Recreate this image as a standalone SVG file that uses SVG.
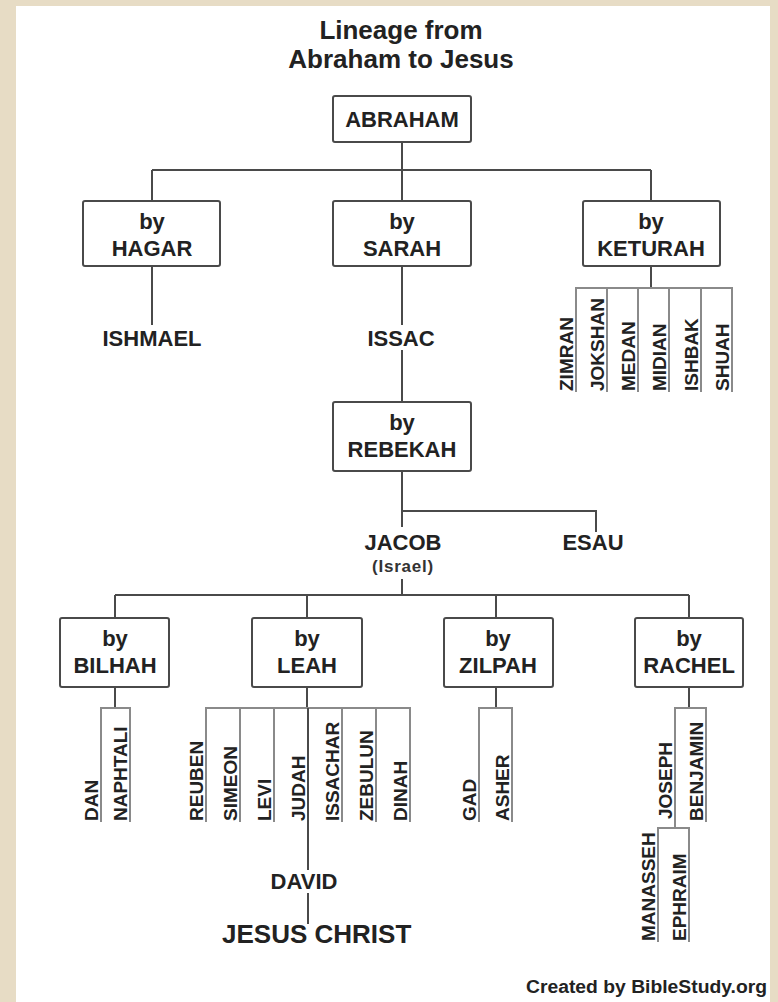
<svg xmlns="http://www.w3.org/2000/svg" width="778" height="1002" viewBox="0 0 778 1002">
<style>
.bg{fill:#e7dcc5}
.panel{fill:#ffffff}
.box{fill:#ffffff;stroke:#4a4a4a;stroke-width:2}
.ln{fill:none;stroke:#4a4a4a;stroke-width:2}
.br{fill:none;stroke:#8a8a8a;stroke-width:2}
text{font-family:"Liberation Sans",Arial,sans-serif;font-weight:bold;fill:#222}
.t{font-size:26px;text-anchor:middle}
.lb{font-size:22px;text-anchor:middle}
.son{font-size:19px}
.isr{font-size:17px;text-anchor:middle;fill:#333;letter-spacing:0.8px}
.jc{font-size:26px}
.cr{font-size:18px}
</style>
<rect class="bg" x="0" y="0" width="778" height="1002"/>
<rect class="panel" x="16" y="6" width="754" height="996"/>

<g id="title">
<text class="t" x="401" y="39">Lineage from</text>
<text class="t" x="401" y="68">Abraham to Jesus</text>
</g>

<g id="connectors">
<path class="ln" d="M402 142V201M152 170H651M152 170V201M651 170V201"/>
<path class="ln" d="M152 266V325M402 266V325M402 350V402M402 471V527M402 511H596V532M402 579V595M115 595H689M115 595V618M307 595V618M496 595V618M689 595V618"/>
<path class="ln" d="M651 266V288M115 687V708M307 687V708M496 687V708M689 687V708"/>
<path class="br" d="M576 392V288H732V392M607 288V392M638 288V392M669 288V392M701 288V392"/>
<path class="br" d="M101 822V708H130V822"/>
<path class="br" d="M206 822V708H410V822M240 708V822M274 708V822M342 708V822M376 708V822"/>
<path class="ln" d="M308 708V870M308 893V924"/>
<path class="br" d="M479 822V708H512V822"/>
<path class="br" d="M675 828V708H706V822M658 942V828H689V942"/>
</g>

<g id="abraham"><rect class="box" x="333" y="96" width="138" height="46" rx="2"/><text class="lb" x="402" y="127">ABRAHAM</text></g>
<g id="hagar"><rect class="box" x="83" y="201" width="137" height="65" rx="2"/><text class="lb" x="152" y="229">by</text><text class="lb" x="152" y="256">HAGAR</text></g>
<g id="sarah"><rect class="box" x="333" y="201" width="138" height="65" rx="2"/><text class="lb" x="402" y="229">by</text><text class="lb" x="402" y="256">SARAH</text></g>
<g id="keturah"><rect class="box" x="583" y="201" width="137" height="65" rx="2"/><text class="lb" x="651" y="229">by</text><text class="lb" x="651" y="256">KETURAH</text></g>

<g id="ishmael"><text class="lb" x="152" y="346">ISHMAEL</text></g>
<g id="issac"><text class="lb" x="401" y="346">ISSAC</text></g>

<g id="keturah-sons">
<text class="son" transform="translate(573,391) rotate(-90)">ZIMRAN</text>
<text class="son" transform="translate(604,391) rotate(-90)">JOKSHAN</text>
<text class="son" transform="translate(635,391) rotate(-90)">MEDAN</text>
<text class="son" transform="translate(666,391) rotate(-90)">MIDIAN</text>
<text class="son" transform="translate(698,391) rotate(-90)">ISHBAK</text>
<text class="son" transform="translate(729,391) rotate(-90)">SHUAH</text>
</g>

<g id="rebekah"><rect class="box" x="333" y="402" width="138" height="69" rx="2"/><text class="lb" x="402" y="430">by</text><text class="lb" x="402" y="457">REBEKAH</text></g>

<g id="jacob"><text class="lb" x="403" y="550">JACOB</text><text class="isr" x="403" y="572">(Israel)</text></g>
<g id="esau"><text class="lb" x="593" y="550">ESAU</text></g>

<g id="bilhah"><rect class="box" x="60" y="618" width="109" height="69" rx="2"/><text class="lb" x="115" y="646">by</text><text class="lb" x="115" y="673">BILHAH</text></g>
<g id="leah"><rect class="box" x="252" y="618" width="110" height="69" rx="2"/><text class="lb" x="307" y="646">by</text><text class="lb" x="307" y="673">LEAH</text></g>
<g id="zilpah"><rect class="box" x="444" y="618" width="109" height="69" rx="2"/><text class="lb" x="498" y="646">by</text><text class="lb" x="498" y="673">ZILPAH</text></g>
<g id="rachel"><rect class="box" x="635" y="618" width="108" height="69" rx="2"/><text class="lb" x="689" y="646">by</text><text class="lb" x="689" y="673">RACHEL</text></g>

<g id="bilhah-sons">
<text class="son" transform="translate(98,821) rotate(-90)">DAN</text>
<text class="son" transform="translate(127,821) rotate(-90)">NAPHTALI</text>
</g>
<g id="leah-sons">
<text class="son" transform="translate(203,821) rotate(-90)">REUBEN</text>
<text class="son" transform="translate(237,821) rotate(-90)">SIMEON</text>
<text class="son" transform="translate(271,821) rotate(-90)">LEVI</text>
<text class="son" transform="translate(305,821) rotate(-90)">JUDAH</text>
<text class="son" transform="translate(339,821) rotate(-90)">ISSACHAR</text>
<text class="son" transform="translate(373,821) rotate(-90)">ZEBULUN</text>
<text class="son" transform="translate(407,821) rotate(-90)">DINAH</text>
</g>
<g id="zilpah-sons">
<text class="son" transform="translate(476,821) rotate(-90)">GAD</text>
<text class="son" transform="translate(509,821) rotate(-90)">ASHER</text>
</g>
<g id="rachel-sons">
<text class="son" transform="translate(672,819) rotate(-90)">JOSEPH</text>
<text class="son" transform="translate(703,821) rotate(-90)">BENJAMIN</text>
</g>
<g id="joseph-sons">
<text class="son" transform="translate(655,941) rotate(-90)">MANASSEH</text>
<text class="son" transform="translate(686,941) rotate(-90)">EPHRAIM</text>
</g>

<g id="david"><text class="lb" x="304" y="889">DAVID</text></g>
<g id="jesus"><text class="jc" x="222" y="943">JESUS CHRIST</text></g>
<g id="credit"><text class="cr" x="526" y="993" textLength="241" lengthAdjust="spacingAndGlyphs">Created by BibleStudy.org</text></g>
</svg>
